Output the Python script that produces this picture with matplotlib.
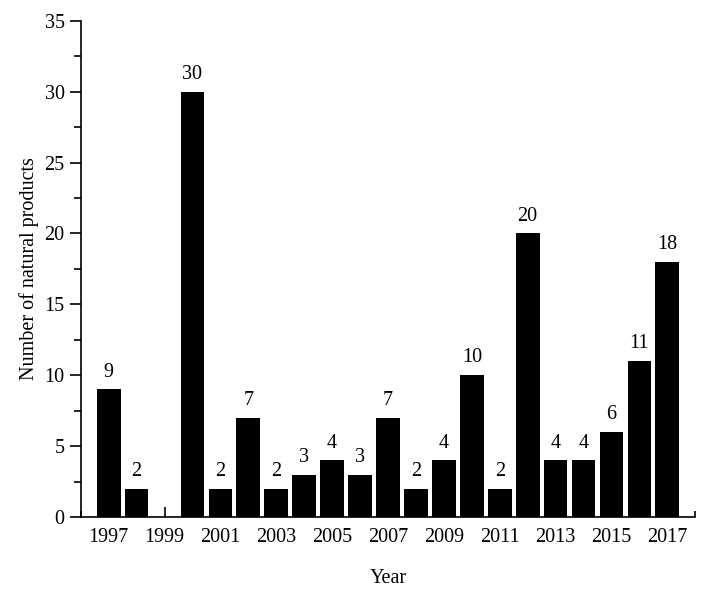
import matplotlib.pyplot as plt
from matplotlib.ticker import MultipleLocator

# Data
years = [1997, 1998, 2000, 2001, 2002, 2003, 2004, 2005, 2006, 2007,
         2008, 2009, 2010, 2011, 2012, 2013, 2014, 2015, 2016, 2017]
counts = [9, 2, 30, 2, 7, 2, 3, 4, 3, 7, 2, 4, 10, 2, 20, 4, 4, 6, 11, 18]
tick_years = list(range(1997, 2018, 2))

plt.rcParams['font.family'] = ['Liberation Serif', 'DejaVu Serif']

fig = plt.figure(figsize=(7.08, 5.93), dpi=100)
ax = fig.add_axes([0.114, 0.128, 0.868, 0.837])

ax.bar(years, counts, width=0.85, color='black')
for x, v in zip(years, counts):
    ax.text(x, v + 0.55, str(v), ha='center', va='bottom', fontsize=14.5)

ax.set_xlim(1996, 2018)
ax.set_ylim(0, 35)
ax.set_xticks(tick_years)
ax.xaxis.set_minor_locator(MultipleLocator(1))
ax.yaxis.set_major_locator(MultipleLocator(5))
ax.yaxis.set_minor_locator(MultipleLocator(2.5))

ax.tick_params(axis='x', which='major', direction='in', length=7, width=1.2, labelsize=14.5, pad=8)
ax.tick_params(axis='x', which='minor', direction='in', length=4, width=1.2)
ax.tick_params(axis='y', which='major', direction='out', length=8, width=1.2, labelsize=14.5)
ax.tick_params(axis='y', which='minor', direction='out', length=5, width=1.2)

for s in ['top', 'right']:
    ax.spines[s].set_visible(False)
for s in ['left', 'bottom']:
    ax.spines[s].set_linewidth(1.2)

ax.set_xlabel('Year', fontsize=14.5, labelpad=16)
ax.set_ylabel('Number of natural products', fontsize=14.5, labelpad=4)

fig.savefig('out.png', dpi=100)
